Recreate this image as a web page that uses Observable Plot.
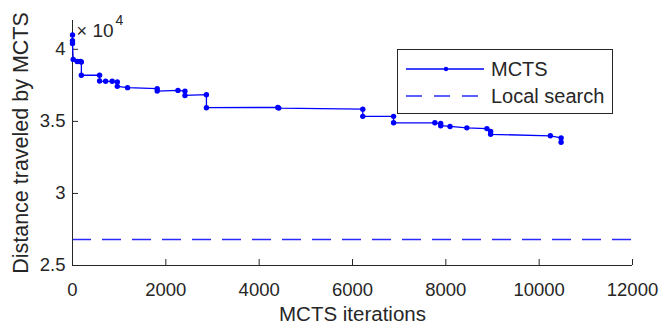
<!DOCTYPE html>
<html>
<head>
<meta charset="utf-8">
<script src="https://cdn.jsdelivr.net/npm/d3@7"></script>
<script src="https://cdn.jsdelivr.net/npm/@observablehq/plot@0.6"></script>
<style>
  html, body { margin: 0; padding: 0; background: #fff; }
  #wrap { position: relative; width: 664px; height: 332px; font-family: "Liberation Sans", Arial, sans-serif; }
  #legend { position: absolute; left: 397px; top: 49px; width: 216px; height: 65px; border: 1px solid #262626; background: #fff; box-sizing: border-box; }
</style>
</head>
<body>
<div id="wrap"></div>
<script>
// MCTS iterations at which the best distance was recorded
const iterations = [0, 0, 0, 15, 100, 170, 190, 190, 580, 580, 710, 850, 960, 960, 1180, 1815, 1815, 2260, 2410, 2410, 2870, 2870, 4400, 4420, 6220, 6220, 6880, 6880, 7765, 7890, 7890, 8090, 8450, 8880, 8960, 8960, 10240, 10470, 10470];
// Distance traveled (best so far)
const distances = [41000, 40600, 40400, 39300, 39160, 39150, 39120, 38200, 38200, 37800, 37780, 37780, 37730, 37430, 37340, 37270, 37100, 37150, 37100, 36800, 36850, 35950, 35970, 35920, 35850, 35350, 35350, 34900, 34900, 34850, 34700, 34650, 34550, 34500, 34300, 34100, 34000, 33850, 33550];
const localSearch = 26800;
const xTicks = [0, 2000, 4000, 6000, 8000, 10000, 12000];
const yTicks = [25000, 30000, 35000, 40000];
const seriesNames = ["MCTS", "Local search"];
const axisLabels = { x: "MCTS iterations", y: "Distance traveled by MCTS" };

const data = iterations.map((x, i) => ({ x, y: distances[i] }));
const ink = "#262626";
const blue = "#0000ff";
const dashBlue = "#2a2aff";

const chart = Plot.plot({
  width: 664,
  height: 332,
  marginLeft: 72,
  marginRight: 32,
  marginTop: 20,
  marginBottom: 67,
  style: { fontFamily: "Liberation Sans, Arial, sans-serif", color: ink, background: "white", overflow: "visible" },
  x: { domain: [0, 12000], ticks: xTicks },
  y: { domain: [25000, 42000], ticks: yTicks },
  marks: [
    Plot.ruleY([localSearch], { stroke: dashBlue, strokeWidth: 1.6, strokeDasharray: "19,11" }),
    Plot.axisX({ ticks: xTicks, tickSize: 0, tickPadding: 17, fontSize: 18.5, label: null, fill: ink, tickFormat: d => String(d) }),
    Plot.axisY({ ticks: yTicks, tickSize: 0, tickPadding: 7, fontSize: 18.5, label: null, fill: ink, tickFormat: d => String(d / 10000) }),
    Plot.tickX(xTicks, { x: d => d, stroke: ink, strokeWidth: 1, insetTop: 239 }),
    Plot.tickY(yTicks, { y: d => d, stroke: ink, strokeWidth: 1, insetRight: 554 }),
    Plot.ruleY([25000], { stroke: ink, strokeWidth: 1 }),
    Plot.ruleX([0], { stroke: ink, strokeWidth: 1 }),
    Plot.line(data, { x: "x", y: "y", stroke: blue, strokeWidth: 1.3 }),
    Plot.dot(data, { x: "x", y: "y", r: 2.7, fill: blue, stroke: "none" }),
    Plot.text([axisLabels.x], { frameAnchor: "bottom", dy: 55, fontSize: 20.5, fill: ink, textAnchor: "middle", text: d => d }),
    Plot.text([axisLabels.y], { frameAnchor: "left", dx: -51, rotate: -90, fontSize: 21.5, fill: ink, textAnchor: "middle", text: d => d }),
    Plot.text(["×"], { frameAnchor: "top-left", dx: 4, dy: 4, fontSize: 18, fill: ink, textAnchor: "start", text: d => d }),
    Plot.text(["10"], { frameAnchor: "top-left", dx: 20, dy: 3, fontSize: 19, fill: ink, textAnchor: "start", text: d => d }),
    Plot.text(["4"], { frameAnchor: "top-left", dx: 43, dy: -5, fontSize: 14, fill: ink, textAnchor: "start", text: d => d })
  ]
});

const wrap = document.getElementById("wrap");
wrap.appendChild(chart);

// Legend
const legend = document.createElement("div");
legend.id = "legend";
legend.innerHTML = `
<svg width="216" height="65" style="position:absolute;left:0;top:0">
  <line x1="8" x2="86" y1="19" y2="19" stroke="${blue}" stroke-width="1.3"/>
  <circle cx="48" cy="19" r="2.2" fill="${blue}"/>
  <text x="93" y="19" dy="0.35em" font-size="20" fill="${ink}" font-family="Liberation Sans, Arial, sans-serif">${seriesNames[0]}</text>
  <line x1="8" x2="86" y1="46" y2="46" stroke="${dashBlue}" stroke-width="1.6" stroke-dasharray="16,12"/>
  <text x="93" y="46" dy="0.35em" font-size="20" fill="${ink}" font-family="Liberation Sans, Arial, sans-serif">${seriesNames[1]}</text>
</svg>`;
wrap.appendChild(legend);
</script>
</body>
</html>
